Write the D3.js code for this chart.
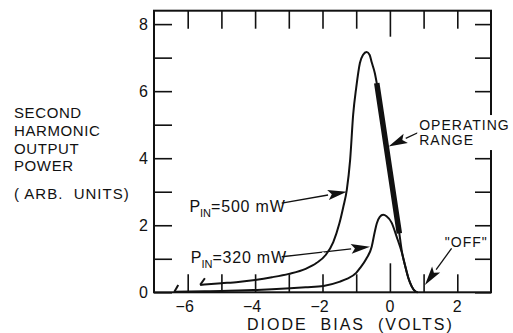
<!DOCTYPE html>
<meta charset="utf-8">
<script src="https://d3js.org/d3.v7.min.js"></script>
<style>
body { margin: 0; background: #fff; }
text { font-family: 'Liberation Sans', Arial, sans-serif; fill: #111; }
</style>
<div id="chart"></div>
<script>

// tick labels
const xTicks = [-6, -4, -2, 0, 2];
const yTicks = [0, 2, 4, 6, 8];

// P_IN = 500 mW curve (diode bias in volts, power in arb. units)
const bias500  = [-5.63, -5.0, -4.5, -4.0, -3.5, -3.0, -2.5, -2.17, -1.9, -1.68, -1.5, -1.38, -1.28, -1.18, -1.09, -1.0, -0.89, -0.8, -0.69, -0.6, -0.54, -0.45, -0.39, -0.2, 0.0, 0.28, 0.35, 0.45, 0.55, 0.65, 0.75, 0.82];
const power500 = [0.22, 0.27, 0.31, 0.37, 0.45, 0.55, 0.70, 0.88, 1.12, 1.50, 2.05, 2.56, 3.05, 3.95, 5.30, 6.10, 6.84, 7.08, 7.17, 7.08, 6.86, 6.55, 6.24, 4.97, 3.63, 1.76, 1.25, 0.80, 0.42, 0.17, 0.03, 0.0];

// P_IN = 320 mW curve
const bias320  = [-6.38, -5.5, -5.0, -4.5, -3.95, -3.5, -2.96, -2.5, -1.97, -1.48, -1.28, -1.0, -0.89, -0.7, -0.54, -0.45, -0.39, -0.3, -0.2, -0.1, 0.05, 0.2, 0.35, 0.45, 0.55, 0.65, 0.75, 0.82];
const power320 = [0.02, 0.03, 0.04, 0.05, 0.07, 0.09, 0.12, 0.15, 0.19, 0.32, 0.40, 0.58, 0.72, 1.00, 1.36, 1.80, 2.05, 2.25, 2.31, 2.27, 2.08, 1.66, 1.20, 0.80, 0.42, 0.17, 0.03, 0.0];

// small hooks at the start of each curve
const hookBias  = [[-5.49, -5.63], [-6.28, -6.40]];
const hookPower = [[0.42, 0.22], [0.22, 0.01]];

// operating range on the 500 mW curve
const operatingRange = [-0.39, 0.28];

// annotation arrows: tail -> tip, in data units
const arrowTailX = [-3.21, -3.21, 0.89, 1.83];
const arrowTailY = [2.66, 1.06, 4.79, 1.31];
const arrowTipX  = [-1.28, -0.59, -0.04, 1.04];
const arrowTipY  = [3.00, 1.36, 4.35, 0.22];

const W = 513, H = 333;

const svg = d3.select("#chart")
  .append("svg")
    .attr("width", W)
    .attr("height", H);

const x = d3.scaleLinear().domain([-7, 3]).range([154, 491]);
const y = d3.scaleLinear().domain([0, 8.4]).range([292.3, 10.7]);

// ---------- frame + ticks ----------
const inner = d3.range(-6, 3);
const innerY = d3.range(0, 9);

svg.append("g")
  .attr("transform", "translate(0," + y(0) + ")")
  .call(d3.axisBottom(x).tickValues(inner).tickSize(-18).tickFormat(""))
  .call(g => g.select(".domain").remove())
  .call(g => g.selectAll(".tick line").filter(d => d === 0).attr("y2", -29));

svg.append("g")
  .attr("transform", "translate(0," + y(8.4) + ")")
  .call(d3.axisTop(x).tickValues(inner).tickSize(-18).tickFormat(""))
  .call(g => g.select(".domain").remove())
  .call(g => g.selectAll(".tick line").filter(d => d === 0).attr("y2", 26));

svg.append("g")
  .attr("transform", "translate(" + x(-7) + ",0)")
  .call(d3.axisLeft(y).tickValues(innerY).tickSize(-18).tickFormat(""))
  .call(g => g.select(".domain").remove());

svg.append("g")
  .attr("transform", "translate(" + x(3) + ",0)")
  .call(d3.axisRight(y).tickValues(innerY).tickSize(-16).tickFormat(""))
  .call(g => g.select(".domain").remove());

svg.selectAll(".tick line").attr("stroke", "#111").attr("stroke-width", 1.6);

svg.append("rect")
  .attr("x", x(-7)).attr("y", y(8.4))
  .attr("width", x(3) - x(-7)).attr("height", y(0) - y(8.4))
  .attr("fill", "none").attr("stroke", "#111").attr("stroke-width", 2);

// tick labels
svg.append("g").selectAll("text")
  .data(xTicks).enter().append("text")
    .attr("x", d => x(d) - (d < 0 ? 3 : 0))
    .attr("y", 312)
    .attr("text-anchor", "middle")
    .style("font-size", "16px")
    .text(d => d < 0 ? "\u2212" + Math.abs(d) : d);

svg.append("g").selectAll("text")
  .data(yTicks).enter().append("text")
    .attr("x", x(-7) - 6)
    .attr("y", d => y(d) + 6)
    .attr("text-anchor", "end")
    .style("font-size", "16px")
    .text(d => d);

// axis titles
svg.append("text")
  .attr("x", 247).attr("y", 330)
  .style("font-size", "16px")
  .style("letter-spacing", "2px")
  .style("white-space", "pre")
  .text("DIODE  BIAS  (VOLTS)");

const yTitle = ["SECOND", "HARMONIC", "OUTPUT", "POWER"];
svg.append("g").selectAll("text")
  .data(yTitle).enter().append("text")
    .attr("x", 14)
    .attr("y", (d, i) => 118 + i * 17.8)
    .style("font-size", "15px")
    .style("letter-spacing", "0.6px")
    .text(d => d);
svg.append("text")
  .attr("x", 14).attr("y", 198.5)
  .style("font-size", "15px")
  .style("letter-spacing", "1px")
  .style("white-space", "pre")
  .text("( ARB.  UNITS)");

// ---------- annotations ----------
arrowTailX.forEach((tx, i) => {
  const x0 = x(tx), y0 = y(arrowTailY[i]);
  const x1 = x(arrowTipX[i]), y1 = y(arrowTipY[i]);
  const len = Math.hypot(x1 - x0, y1 - y0);
  const ux = (x1 - x0) / len, uy = (y1 - y0) / len;
  const L = 19, w = 5;
  const bx = x1 - ux * L, by = y1 - uy * L;
  svg.append("line")
    .attr("x1", x0).attr("y1", y0).attr("x2", bx).attr("y2", by)
    .attr("stroke", "#111").attr("stroke-width", 1.3);
  svg.append("path")
    .attr("d", "M" + x1 + "," + y1 +
               "L" + (bx - uy * w) + "," + (by + ux * w) +
               "L" + (x1 - ux * L * 0.8) + "," + (y1 - uy * L * 0.8) +
               "L" + (bx + uy * w) + "," + (by - ux * w) + "Z")
    .attr("fill", "#111");
});

// ---------- curves ----------
const line = d3.line()
  .x(d => x(d[0]))
  .y(d => y(d[1]))
  .curve(d3.curveMonotoneX);

const pts500 = bias500.map((b, i) => [b, power500[i]]);
const pts320 = bias320.map((b, i) => [b, power320[i]]);

// white halo where the 320 mW pointer crosses the 500 mW curve
svg.append("path").attr("d", line(pts500.filter(p => p[0] >= -2.5 && p[0] <= -1.9)))
  .attr("fill", "none").attr("stroke", "#fff").attr("stroke-width", 8);

svg.append("path").attr("d", line(pts500))
  .attr("fill", "none").attr("stroke", "#111").attr("stroke-width", 2);
svg.append("path").attr("d", line(pts320))
  .attr("fill", "none").attr("stroke", "#111").attr("stroke-width", 2);

// thick operating range segment
svg.append("path")
  .attr("d", line(pts500.filter(p => p[0] >= operatingRange[0] && p[0] <= operatingRange[1])))
  .attr("fill", "none").attr("stroke", "#111").attr("stroke-width", 5.5);

// hooks
hookBias.forEach((hb, i) => {
  svg.append("path")
    .attr("d", d3.line()(hb.map((b, j) => [x(b), y(hookPower[i][j])])))
    .attr("fill", "none").attr("stroke", "#111").attr("stroke-width", 2);
});

// P_IN labels
const pinLabels = [["500", -5.95, 2.41], ["320", -5.91, 0.87]];
pinLabels.forEach(p => {
  const t = svg.append("text")
    .attr("x", x(p[1])).attr("y", y(p[2]))
    .style("font-size", "16px");
  t.append("tspan").text("P");
  t.append("tspan").attr("dy", 5).style("font-size", "11px").text("IN");
  t.append("tspan").attr("dy", -5).style("letter-spacing", "0.8px").text("=" + p[0] + " mW");
});

// operating range label, breaking the right frame line
svg.append("rect")
  .attr("x", x(0.87) - 2).attr("y", y(4.84) - 15)
  .attr("width", 94).attr("height", 35)
  .attr("fill", "#fff");
svg.append("text")
  .attr("x", x(0.87)).attr("y", y(4.84))
  .style("font-size", "14px").style("letter-spacing", "1px")
  .text("OPERATING");
svg.append("text")
  .attr("x", x(0.87)).attr("y", y(4.40))
  .style("font-size", "14px").style("letter-spacing", "1px")
  .text("RANGE");
svg.append("text")
  .attr("x", x(1.63)).attr("y", y(1.36))
  .style("font-size", "14px").style("letter-spacing", "1px")
  .text("\"OFF\"");

</script>
